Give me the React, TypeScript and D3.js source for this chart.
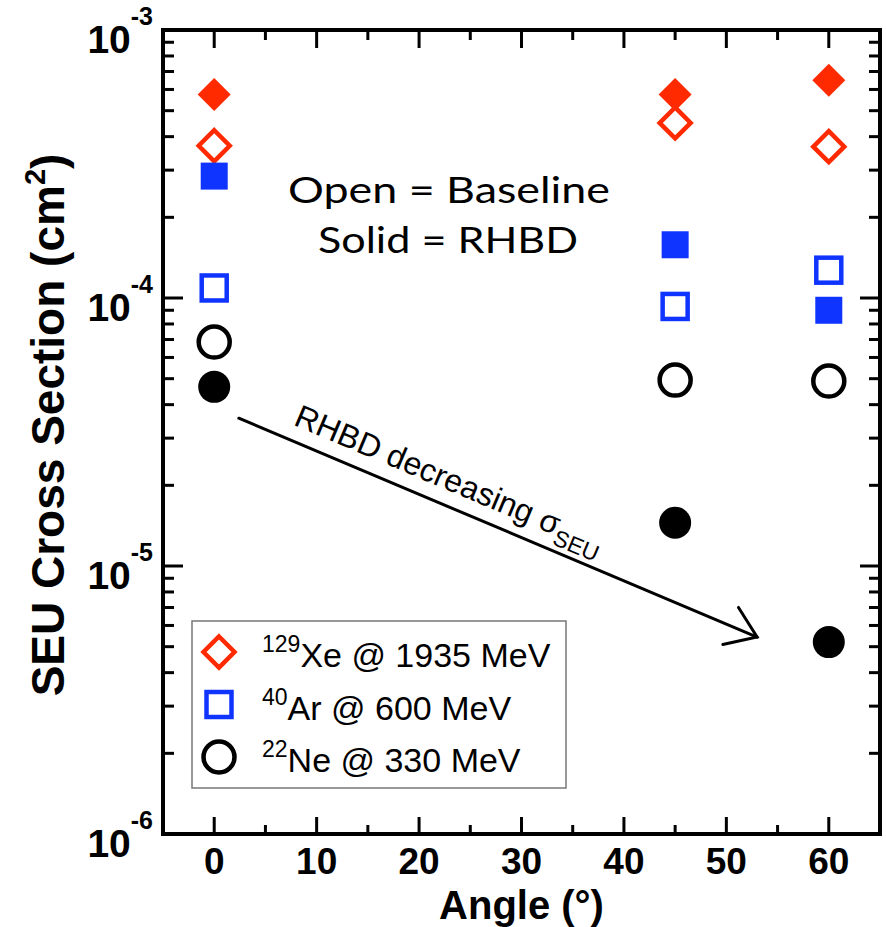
import React from "react";
import * as d3 from "d3";

const angles = [0, 45, 60];
const xeBaseline = [3.7e-4, 4.5e-4, 3.67e-4];
const xeRHBD = [5.75e-4, 5.75e-4, 6.5e-4];
const arBaseline = [1.09e-4, 9.3e-5, 1.27e-4];
const arRHBD = [2.85e-4, 1.58e-4, 9.0e-5];
const neBaseline = [6.85e-5, 4.94e-5, 4.9e-5];
const neRHBD = [4.66e-5, 1.45e-5, 5.2e-6];

const xTicks = [0, 10, 20, 30, 40, 50, 60];
const yDecades = [1e-3, 1e-4, 1e-5, 1e-6];
const yDecadeLabels = ["-3", "-4", "-5", "-6"];

const legendLabels = [
  { iso: "129", text: "Xe @ 1935 MeV", shape: "diamond", color: "#ff2a00" },
  { iso: "40", text: "Ar @ 600 MeV", shape: "square", color: "#1034ff" },
  { iso: "22", text: "Ne @ 330 MeV", shape: "circle", color: "#000000" },
];

const arrowStart = { x: 2.4, y: 3.56e-5 };
const arrowEnd = { x: 53, y: 5.43e-6 };

const W = 886;
const H = 927;
const L = 163, R = 880, T = 30, B = 834;

const RED = "#ff2a00";
const BLUE = "#1034ff";
const BLACK = "#000000";

function Marker({ shape, cx, cy, color, open }: any) {
  const sw = open ? 4.5 : 0;
  const fill = open ? "#ffffff" : color;
  const stroke = open ? color : "none";
  if (shape === "diamond") {
    const r = open ? 15.5 : 16.5;
    return (
      <path
        d={`M${cx},${cy - r}L${cx + r},${cy}L${cx},${cy + r}L${cx - r},${cy}Z`}
        fill={fill}
        stroke={stroke}
        strokeWidth={sw}
        strokeLinejoin="miter"
      />
    );
  }
  if (shape === "square") {
    const s = open ? 12.5 : 13.5;
    return (
      <rect x={cx - s} y={cy - s} width={2 * s} height={2 * s} fill={fill} stroke={stroke} strokeWidth={sw} />
    );
  }
  const r = open ? 15.5 : 16;
  return <circle cx={cx} cy={cy} r={r} fill={fill} stroke={stroke} strokeWidth={sw} />;
}

export default function App() {
  const x = d3.scaleLinear().domain([-5, 65]).range([L, R]);
  const y = d3.scaleLog().domain([1e-6, 1e-3]).range([B, T]);

  const minorX = d3.range(-5, 66, 5).filter((v) => v % 10 !== 0 && v > -5 && v < 65);
  const minorY: number[] = [];
  for (let e = -6; e < -3; e++) {
    for (let m = 2; m <= 9; m++) minorY.push(m * Math.pow(10, e));
  }

  const series = [
    { vals: xeRHBD, shape: "diamond", color: RED, open: false },
    { vals: xeBaseline, shape: "diamond", color: RED, open: true },
    { vals: arRHBD, shape: "square", color: BLUE, open: false },
    { vals: arBaseline, shape: "square", color: BLUE, open: true },
    { vals: neRHBD, shape: "circle", color: BLACK, open: false },
    { vals: neBaseline, shape: "circle", color: BLACK, open: true },
  ];

  const ax0 = x(arrowStart.x), ay0 = y(arrowStart.y);
  const ax1 = x(arrowEnd.x), ay1 = y(arrowEnd.y);
  const ang = Math.atan2(ay1 - ay0, ax1 - ax0);
  const angDeg = (ang * 180) / Math.PI;
  const head = 35;
  const hA = (35 * Math.PI) / 180;
  const h1x = ax1 - head * Math.cos(ang - hA);
  const h1y = ay1 - head * Math.sin(ang - hA);
  const h2x = ax1 - head * Math.cos(ang + hA);
  const h2y = ay1 - head * Math.sin(ang + hA);

  const tickFont = "'Liberation Sans', Arial, Helvetica, sans-serif";

  return (
    <svg width={W} height={H} style={{ position: "absolute", left: 0, top: 0, background: "#fff" }}>
      <rect x={0} y={0} width={W} height={H} fill="#fff" />

      {/* ticks */}
      <g stroke="#000" strokeWidth={3}>
        {xTicks.map((t) => (
          <g key={"xt" + t}>
            <line x1={x(t)} x2={x(t)} y1={B} y2={B - 17} />
            <line x1={x(t)} x2={x(t)} y1={T} y2={T + 18} />
          </g>
        ))}
        {minorX.map((t) => (
          <g key={"xm" + t}>
            <line x1={x(t)} x2={x(t)} y1={B} y2={B - 9} />
            <line x1={x(t)} x2={x(t)} y1={T} y2={T + 10} />
          </g>
        ))}
        {yDecades.map((t) => (
          <g key={"yt" + t}>
            <line x1={L} x2={L + 20} y1={y(t)} y2={y(t)} />
            <line x1={R} x2={R - 20} y1={y(t)} y2={y(t)} />
          </g>
        ))}
        {minorY.map((t, i) => (
          <g key={"ym" + i}>
            <line x1={L} x2={L + 11} y1={y(t)} y2={y(t)} />
            <line x1={R} x2={R - 11} y1={y(t)} y2={y(t)} />
          </g>
        ))}
      </g>

      {/* frame */}
      <rect x={L} y={T} width={R - L} height={B - T} fill="none" stroke="#000" strokeWidth={4} />

      {/* x tick labels */}
      {xTicks.map((t) => (
        <text
          key={"xl" + t}
          x={x(t)}
          y={874}
          textAnchor="middle"
          fontFamily={tickFont}
          fontWeight="bold"
          fontSize={37}
          fill="#000"
        >
          {t}
        </text>
      ))}

      {/* y tick labels */}
      {yDecades.map((t, i) => (
        <text
          key={"yl" + t}
          x={153}
          y={y(t) + 23}
          textAnchor="end"
          fontFamily={tickFont}
          fontWeight="bold"
          fontSize={39}
          fill="#000"
        >
          10
          <tspan fontSize={25} dy={-28}>
            {yDecadeLabels[i]}
          </tspan>
        </text>
      ))}

      {/* axis titles */}
      <text
        x={(L + R) / 2}
        y={919}
        textAnchor="middle"
        fontFamily={tickFont}
        fontWeight="bold"
        fontSize={40}
      >
        Angle (°)
      </text>
      <text
        transform={`translate(64,425) rotate(-90)`}
        textAnchor="middle"
        fontFamily={tickFont}
        fontWeight="bold"
        fontSize={46}
      >
        SEU Cross Section (cm
        <tspan fontSize={29} dy={-19}>
          2
        </tspan>
        <tspan dy={19}>)</tspan>
      </text>

      {/* annotation */}
      <text
        x={449}
        y={203}
        textAnchor="middle"
        fontFamily="Lato, 'Open Sans', sans-serif"
        fontSize={37}
        textLength={322}
        lengthAdjust="spacingAndGlyphs"
      >
        Open = Baseline
      </text>
      <text
        x={448}
        y={253}
        textAnchor="middle"
        fontFamily="Lato, 'Open Sans', sans-serif"
        fontSize={37}
        textLength={260}
        lengthAdjust="spacingAndGlyphs"
      >
        Solid = RHBD
      </text>

      {/* arrow */}
      <g stroke="#000" strokeWidth={3} fill="none" strokeLinecap="round">
        <line x1={ax0} y1={ay0} x2={ax1} y2={ay1} />
        <polyline points={`${h1x},${h1y} ${ax1},${ay1} ${h2x},${h2y}`} />
      </g>
      <g transform={`translate(${ax0},${ay0}) rotate(${angDeg})`}>
        <text x={52} y={-15} fontFamily={tickFont} fontSize={32} fill="#000">
          RHBD decreasing σ
          <tspan fontSize={23} dy={9}>
            SEU
          </tspan>
        </text>
      </g>

      {/* data */}
      {series.map((s, si) =>
        s.vals.map((v, i) => (
          <Marker
            key={`m${si}-${i}`}
            shape={s.shape}
            cx={x(angles[i])}
            cy={y(v)}
            color={s.color}
            open={s.open}
          />
        ))
      )}

      {/* legend */}
      <rect x={192} y={621} width={374} height={167} fill="#fff" stroke="#777" strokeWidth={1.5} />
      {legendLabels.map((d, i) => {
        const cy = 652 + i * 52.5;
        return (
          <g key={"lg" + i}>
            <Marker shape={d.shape} cx={219} cy={cy} color={d.color} open={true} />
            <text x={262} y={cy + 15} fontFamily={tickFont} fontSize={34} fill="#000">
              <tspan fontSize={23} dy={-15}>
                {d.iso}
              </tspan>
              <tspan dy={15}>{d.text}</tspan>
            </text>
          </g>
        );
      })}
    </svg>
  );
}
